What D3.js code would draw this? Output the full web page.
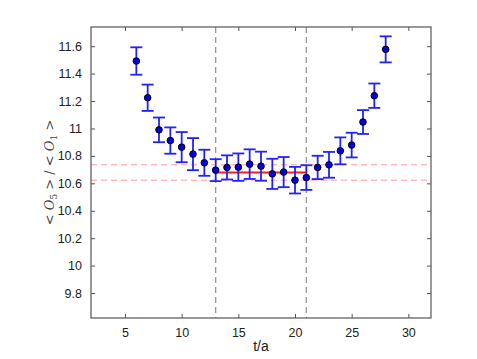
<!DOCTYPE html>
<html>
<head>
<meta charset="utf-8">
<script src="https://cdn.jsdelivr.net/npm/d3@7"></script>
<style>
  body { margin: 0; background: #fff; }
  svg { display: block; }
</style>
</head>
<body>
<div id="chart"></div>
<script>
// ---- data ----
const tValues = [6, 7, 8, 9, 10, 11, 12, 13, 14, 15, 16, 17, 18, 19, 20, 21, 22, 23, 24, 25, 26, 27, 28];
const ratioValues = [11.492, 11.224, 10.99, 10.912, 10.864, 10.813, 10.75, 10.696, 10.716, 10.718, 10.74, 10.725,
    10.669, 10.682, 10.623, 10.642, 10.716, 10.735, 10.837, 10.879, 11.047, 11.239, 11.577];
const ratioErrors = [0.1, 0.096, 0.09, 0.096, 0.11, 0.117, 0.095, 0.08, 0.088, 0.1, 0.108, 0.106,
    0.11, 0.11, 0.097, 0.09, 0.085, 0.094, 0.098, 0.09, 0.087, 0.089, 0.095];
const fitRange = [13, 21];          // plateau window (dashed verticals, red fit)
const fitValue = 10.679;
const fitBand = [10.623, 10.735];   // +/- error band (pink dashed)
const xTicks = [5, 10, 15, 20, 25, 30];
const yTicks = [9.8, 10, 10.2, 10.4, 10.6, 10.8, 11, 11.2, 11.4, 11.6];

const W = 477, H = 359;
const margin = { top: 27, right: 46, bottom: 41, left: 91 };
const width = W - margin.left - margin.right;
const height = H - margin.top - margin.bottom;

const svg = d3.select("#chart").append("svg")
    .attr("width", W)
    .attr("height", H);

const g = svg.append("g")
    .attr("transform", `translate(${margin.left},${margin.top})`);

const x = d3.scaleLinear().domain([2, 32]).range([0, width]);
const y = d3.scaleLinear().domain([9.618, 11.74]).range([height, 0]);

const tickFmt = d => String(+d.toFixed(1));

// axes with inside ticks, on all four sides
const axisColor = "#555";
function styleAxis(sel) {
    sel.select(".domain").remove();
    sel.selectAll(".tick line").attr("stroke", axisColor);
    sel.selectAll(".tick text")
        .attr("fill", "#222")
        .style("font-family", "Liberation Sans, Arial, sans-serif")
        .style("font-size", "12.5px");
}

g.append("g")
    .attr("transform", `translate(0,${height})`)
    .call(d3.axisBottom(x).tickValues(xTicks).tickSize(-4).tickPadding(10).tickFormat(tickFmt))
    .call(styleAxis);

g.append("g")
    .call(d3.axisTop(x).tickValues(xTicks).tickSize(-4).tickFormat(""))
    .call(styleAxis);

g.append("g")
    .call(d3.axisLeft(y).tickValues(yTicks).tickSize(-4).tickPadding(9).tickFormat(tickFmt))
    .call(styleAxis);

g.append("g")
    .attr("transform", `translate(${width},0)`)
    .call(d3.axisRight(y).tickValues(yTicks).tickSize(-4).tickFormat(""))
    .call(styleAxis);

// pink dashed band lines
fitBand.forEach(v => {
    g.append("line")
        .attr("x1", 0).attr("x2", width)
        .attr("y1", y(v)).attr("y2", y(v))
        .attr("stroke", "#ff9a9a")
        .attr("stroke-width", 1)
        .attr("stroke-dasharray", "6,4");
});

// gray dashed verticals
fitRange.forEach(v => {
    g.append("line")
        .attr("x1", x(v)).attr("x2", x(v))
        .attr("y1", 0).attr("y2", height)
        .attr("stroke", "#999")
        .attr("stroke-width", 1.3)
        .attr("stroke-dasharray", "6,4");
});

// red fit line
g.append("line")
    .attr("x1", x(fitRange[0])).attr("x2", x(fitRange[1]))
    .attr("y1", y(fitValue)).attr("y2", y(fitValue))
    .attr("stroke", "#ff1a1a")
    .attr("stroke-width", 2);

// error bars
const blue = "#2222ff";
const cap = 6;
const bars = g.append("g").selectAll("g")
    .data(tValues.map((t, i) => ({ t, v: ratioValues[i], e: ratioErrors[i] })))
    .join("g")
    .attr("stroke", blue)
    .attr("stroke-width", 1.8);

bars.append("line")
    .attr("x1", d => x(d.t)).attr("x2", d => x(d.t))
    .attr("y1", d => y(d.v + d.e)).attr("y2", d => y(d.v - d.e));
bars.append("line")
    .attr("x1", d => x(d.t) - cap).attr("x2", d => x(d.t) + cap)
    .attr("y1", d => y(d.v + d.e)).attr("y2", d => y(d.v + d.e));
bars.append("line")
    .attr("x1", d => x(d.t) - cap).attr("x2", d => x(d.t) + cap)
    .attr("y1", d => y(d.v - d.e)).attr("y2", d => y(d.v - d.e));

// points
g.append("g").selectAll("circle")
    .data(tValues.map((t, i) => ({ t, v: ratioValues[i] })))
    .join("circle")
    .attr("cx", d => x(d.t))
    .attr("cy", d => y(d.v))
    .attr("r", 3.3)
    .attr("fill", "#0000e0")
    .attr("stroke", "#000")
    .attr("stroke-width", 1);

// frame
g.append("rect")
    .attr("width", width).attr("height", height)
    .attr("fill", "none")
    .attr("stroke", axisColor)
    .attr("stroke-width", 1.2);

// x label
g.append("text")
    .attr("x", width / 2)
    .attr("y", height + 33)
    .attr("text-anchor", "middle")
    .style("font-family", "Liberation Sans, Arial, sans-serif")
    .style("font-size", "14px")
    .attr("fill", "#222")
    .text("t/a");

// y label
const yl = g.append("text")
    .attr("transform", `translate(-37,${height / 2}) rotate(-90)`)
    .attr("text-anchor", "middle")
    .style("font-family", "DejaVu Serif, serif")
    .style("font-size", "13px")
    .attr("fill", "#444");
yl.append("tspan").text("< ");
yl.append("tspan").style("font-style", "italic").text("O");
yl.append("tspan").attr("dy", 3).style("font-size", "9px").text("5");
yl.append("tspan").attr("dy", -3).text(" > / < ");
yl.append("tspan").style("font-style", "italic").text("O");
yl.append("tspan").attr("dy", 3).style("font-size", "9px").text("1");
yl.append("tspan").attr("dy", -3).text(" >");
</script>
</body>
</html>
